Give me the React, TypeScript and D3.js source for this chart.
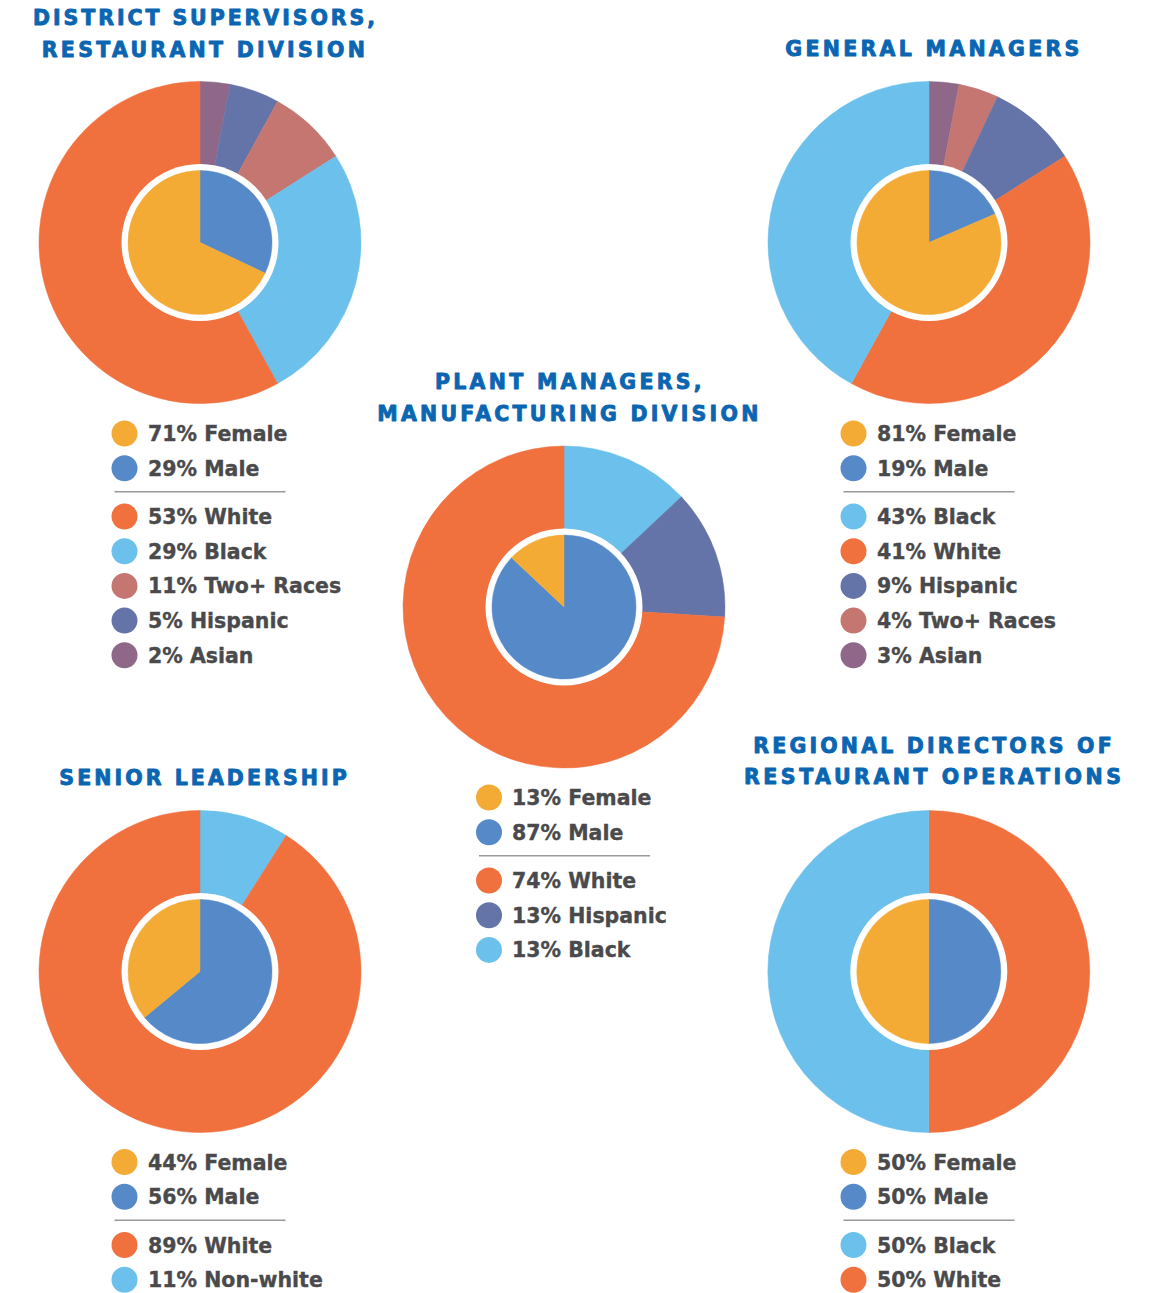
import React from "react";
import * as d3 from "d3";

// ---------- DATA ----------
// Slice order is clockwise from 12 o'clock, values read from the drawn rings.
const dsRaceKeys = ["Asian", "Hispanic", "Two+ Races", "Black", "White"];
const dsRaceValues = [3, 5, 8, 26, 58];
const dsGenderKeys = ["Male", "Female"];
const dsGenderValues = [32, 68];
const dsGenderLegend = [["Female", "71% Female"], ["Male", "29% Male"]];
const dsRaceLegend = [["White", "53% White"], ["Black", "29% Black"], ["Two+ Races", "11% Two+ Races"], ["Hispanic", "5% Hispanic"], ["Asian", "2% Asian"]];

const gmRaceKeys = ["Asian", "Two+ Races", "Hispanic", "White", "Black"];
const gmRaceValues = [3, 4, 9, 42, 42];
const gmGenderKeys = ["Male", "Female"];
const gmGenderValues = [18.5, 81.5];
const gmGenderLegend = [["Female", "81% Female"], ["Male", "19% Male"]];
const gmRaceLegend = [["Black", "43% Black"], ["White", "41% White"], ["Hispanic", "9% Hispanic"], ["Two+ Races", "4% Two+ Races"], ["Asian", "3% Asian"]];

const pmRaceKeys = ["Black", "Hispanic", "White"];
const pmRaceValues = [13, 13, 74];
const pmGenderKeys = ["Male", "Female"];
const pmGenderValues = [87, 13];
const pmGenderLegend = [["Female", "13% Female"], ["Male", "87% Male"]];
const pmRaceLegend = [["White", "74% White"], ["Hispanic", "13% Hispanic"], ["Black", "13% Black"]];

const slRaceKeys = ["Non-white", "White"];
const slRaceValues = [9, 91];
const slGenderKeys = ["Male", "Female"];
const slGenderValues = [64, 36];
const slGenderLegend = [["Female", "44% Female"], ["Male", "56% Male"]];
const slRaceLegend = [["White", "89% White"], ["Non-white", "11% Non-white"]];

const rdRaceKeys = ["White", "Black"];
const rdRaceValues = [50, 50];
const rdGenderKeys = ["Male", "Female"];
const rdGenderValues = [50, 50];
const rdGenderLegend = [["Female", "50% Female"], ["Male", "50% Male"]];
const rdRaceLegend = [["Black", "50% Black"], ["White", "50% White"]];

const dsTitle = ["DISTRICT SUPERVISORS,", "RESTAURANT DIVISION"];
const gmTitle = ["GENERAL MANAGERS"];
const pmTitle = ["PLANT MANAGERS,", "MANUFACTURING DIVISION"];
const slTitle = ["SENIOR LEADERSHIP"];
const rdTitle = ["REGIONAL DIRECTORS OF", "RESTAURANT OPERATIONS"];

// ---------- STYLE ----------
const colorOf: Record<string, string> = {
  White: "#f0703e",
  Black: "#6bc0ec",
  "Non-white": "#6bc0ec",
  Hispanic: "#6574a8",
  "Two+ Races": "#c67670",
  Asian: "#8f6889",
  Female: "#f4ab35",
  Male: "#5589c8",
};
const TITLE_COLOR = "#0b66b2";
const TEXT_COLOR = "#4a4a4c";
const R_OUT = 161;
const R_GAP = 78.5;
const R_IN = 72;

type Cfg = {
  cx: number; cy: number;
  raceKeys: string[]; raceValues: number[];
  genderKeys: string[]; genderValues: number[];
  title: string[]; titleLines: { x: number; y: number; w: number }[];
  legendX: number; legendTextX: number; legendY: number;
  genderLegend: string[][]; raceLegend: string[][];
};

const charts: Cfg[] = [
  {
    cx: 200, cy: 242.5, raceKeys: dsRaceKeys, raceValues: dsRaceValues, genderKeys: dsGenderKeys, genderValues: dsGenderValues,
    title: dsTitle, titleLines: [{ x: 204, y: 25, w: 342 }, { x: 203.3, y: 56.7, w: 323 }],
    legendX: 124.5, legendTextX: 148, legendY: 433.5, genderLegend: dsGenderLegend, raceLegend: dsRaceLegend,
  },
  {
    cx: 929, cy: 242.5, raceKeys: gmRaceKeys, raceValues: gmRaceValues, genderKeys: gmGenderKeys, genderValues: gmGenderValues,
    title: gmTitle, titleLines: [{ x: 932.3, y: 56, w: 294 }],
    legendX: 853.5, legendTextX: 877, legendY: 433.5, genderLegend: gmGenderLegend, raceLegend: gmRaceLegend,
  },
  {
    cx: 564, cy: 607, raceKeys: pmRaceKeys, raceValues: pmRaceValues, genderKeys: pmGenderKeys, genderValues: pmGenderValues,
    title: pmTitle, titleLines: [{ x: 568.3, y: 389, w: 266.7 }, { x: 567.8, y: 421, w: 381 }],
    legendX: 489, legendTextX: 512, legendY: 797.5, genderLegend: pmGenderLegend, raceLegend: pmRaceLegend,
  },
  {
    cx: 200, cy: 971.5, raceKeys: slRaceKeys, raceValues: slRaceValues, genderKeys: slGenderKeys, genderValues: slGenderValues,
    title: slTitle, titleLines: [{ x: 203, y: 785, w: 287.4 }],
    legendX: 124.5, legendTextX: 148, legendY: 1162, genderLegend: slGenderLegend, raceLegend: slRaceLegend,
  },
  {
    cx: 928.8, cy: 971.5, raceKeys: rdRaceKeys, raceValues: rdRaceValues, genderKeys: rdGenderKeys, genderValues: rdGenderValues,
    title: rdTitle, titleLines: [{ x: 932.5, y: 753.3, w: 358.4 }, { x: 932.5, y: 784.3, w: 377 }],
    legendX: 853.5, legendTextX: 877, legendY: 1162, genderLegend: rdGenderLegend, raceLegend: rdRaceLegend,
  },
];

const pie = d3.pie<number>().sort(null).value((d) => d);
const outerArc = d3.arc<d3.PieArcDatum<number>>().innerRadius(0).outerRadius(R_OUT);
const innerArc = d3.arc<d3.PieArcDatum<number>>().innerRadius(0).outerRadius(R_IN);

const STEP = 34.7;

function Chart({ c }: { c: Cfg }) {
  const raceArcs = pie(c.raceValues);
  const genderArcs = pie(c.genderValues);
  const raceStart = c.legendY + 83;
  return (
    <g>
      {c.title.map((t, i) => (
        <text
          key={t}
          x={c.titleLines[i].x}
          y={c.titleLines[i].y}
          textAnchor="middle"
          textLength={c.titleLines[i].w}
          lengthAdjust="spacing"
          fill={TITLE_COLOR}
          stroke={TITLE_COLOR}
          strokeWidth={0.9}
          strokeLinejoin="round"
          fontFamily="'DejaVu Sans', sans-serif"
          fontWeight={700}
          fontSize={20.5}
        >
          {t}
        </text>
      ))}
      <g transform={`translate(${c.cx},${c.cy})`}>
        {raceArcs.map((a, i) => (
          <path key={i} d={outerArc(a) || ""} fill={colorOf[c.raceKeys[i]]} stroke={colorOf[c.raceKeys[i]]} strokeWidth={0.5} />
        ))}
        <circle r={R_GAP} fill="#ffffff" />
        {genderArcs.map((a, i) => (
          <path key={i} d={innerArc(a) || ""} fill={colorOf[c.genderKeys[i]]} stroke={colorOf[c.genderKeys[i]]} strokeWidth={0.5} />
        ))}
      </g>
      <g
        fontFamily="'DejaVu Sans', sans-serif"
        fontWeight={700}
        fontSize={20.5}
        fill={TEXT_COLOR}
        stroke={TEXT_COLOR}
        strokeWidth={0.35}
      >
        {c.genderLegend.map(([k, t], i) => (
          <g key={t}>
            <circle cx={c.legendX} cy={c.legendY + i * STEP} r={13} fill={colorOf[k]} stroke="none" />
            <text x={c.legendTextX} y={c.legendY + i * STEP + 7.5}>{t}</text>
          </g>
        ))}
        <line
          x1={c.legendX - 10}
          x2={c.legendX + 161}
          y1={c.legendY + 58.3}
          y2={c.legendY + 58.3}
          stroke="#9a9a9a"
          strokeWidth={1.5}
        />
        {c.raceLegend.map(([k, t], i) => (
          <g key={t}>
            <circle cx={c.legendX} cy={raceStart + i * STEP} r={13} fill={colorOf[k]} stroke="none" />
            <text x={c.legendTextX} y={raceStart + i * STEP + 7.5}>{t}</text>
          </g>
        ))}
      </g>
    </g>
  );
}

export default function App() {
  return (
    <svg
      width={1167}
      height={1293}
      viewBox="0 0 1167 1293"
      style={{ position: "absolute", left: 0, top: 0, background: "#ffffff" }}
    >
      <rect width={1167} height={1293} fill="#ffffff" />
      {charts.map((c, i) => (
        <Chart key={i} c={c} />
      ))}
    </svg>
  );
}
